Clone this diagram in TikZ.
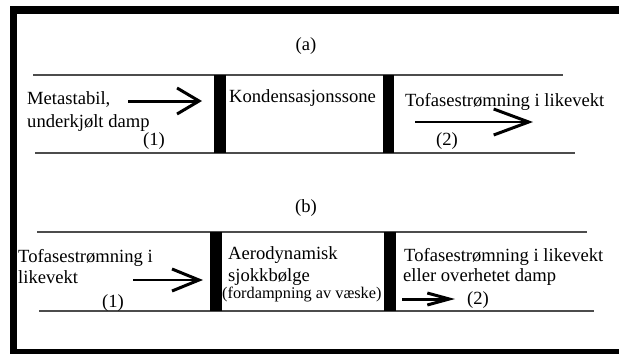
\documentclass[tikz,border=0pt]{standalone}
\usepackage{fontspec}
\setmainfont{Liberation Serif}
\usetikzlibrary{arrows.meta}
\begin{document}
\begin{tikzpicture}[x=1pt,y=-1pt,
  txt/.style={anchor=base west,inner sep=0pt,font=\fontsize{18.6}{20}\selectfont},
  smalltxt/.style={anchor=base west,inner sep=0pt,font=\fontsize{16.3}{18}\selectfont},
  pipe/.style={draw=black!70,line width=1.6pt},
  bar/.style={fill=black},
  framebar/.style={fill=black}
]
\useasboundingbox (0,0) rectangle (619,354);
\fill[white] (0,0) rectangle (619,354);
% frame
\fill[framebar] (10,6) rectangle (17,354);
\fill[framebar] (10,6) rectangle (619,14);
\fill[framebar] (10,349) rectangle (619,354);

% ---------- (a) ----------
\node[txt,anchor=base] (la) at (306,50) {(a)};
\draw[pipe] (33,75) -- (563,75);
\draw[pipe] (35,153) -- (575,153);
\fill[bar] (214,75) rectangle (226,153);
\fill[bar] (383,75) rectangle (394,153);
\node[txt] (a1) at (27,104) {Metastabil,};
\node[txt] (a2) at (27,127) {underkjølt damp};
\node[txt] (a3) at (143,145) {(1)};
\node[txt] (a4) at (229,102) {Kondensasjonssone};
\node[txt] (a5) at (405,106) {Tofasestrømning i likevekt};
\node[txt] (a6) at (436,145) {(2)};
\coordinate (a1s) at (128,101);
\coordinate (a1t) at (202,101);
\draw[line width=3pt,-{Straight Barb[length=22pt,width=26pt]}] (a1s) -- (a1t);
\coordinate (a2s) at (415,122);
\coordinate (a2t) at (533,122);
\draw[line width=2pt,-{Straight Barb[length=35pt,width=26pt,line width=3pt]}] (a2s) -- (a2t);

% ---------- (b) ----------
\node[txt,anchor=base] (lb) at (306,212) {(b)};
\draw[pipe] (37,232) -- (587,232);
\draw[pipe] (39,311) -- (594,311);
\fill[bar] (210,232) rectangle (222,311);
\fill[bar] (384,232) rectangle (396,311);
\node[txt] (b1) at (18,262) {Tofasestrømning i};
\node[txt] (b2) at (18,283) {likevekt};
\node[txt] (b3) at (102,307) {(1)};
\node[txt] (b4) at (228,259) {Aerodynamisk};
\node[txt] (b5) at (228,281) {sjokkbølge};
\node[smalltxt] (b6) at (222,298) {(fordampning av væske)};
\node[txt] (b7) at (404,261) {Tofasestrømning i likevekt};
\node[txt] (b8) at (403,281) {eller overhetet damp};
\node[txt] (b9) at (467,304) {(2)};
\coordinate (b1s) at (133,280);
\coordinate (b1t) at (203,280);
\draw[line width=2.5pt,-{Straight Barb[length=27pt,width=22pt,line width=3pt]}] (b1s) -- (b1t);
\coordinate (b2s) at (402,299);
\coordinate (b2t) at (455,299);
\draw[line width=3pt,-{Straight Barb[length=22pt,width=12pt]}] (b2s) -- (b2t);
\end{tikzpicture}
\end{document}
